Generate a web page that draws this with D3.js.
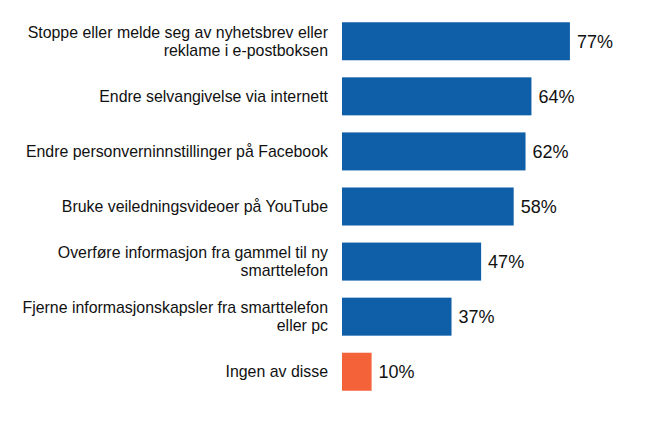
<!DOCTYPE html>
<html><head><meta charset="utf-8">
<script src="https://cdn.jsdelivr.net/npm/d3@7"></script>
<style>body{margin:0;background:#fff}</style></head>
<body><svg id="c" width="664" height="422"></svg>
<script>
const categories = [
  ["Stoppe eller melde seg av nyhetsbrev eller","reklame i e-postboksen"],
  ["Endre selvangivelse via internett"],
  ["Endre personverninnstillinger på Facebook"],
  ["Bruke veiledningsvideoer på YouTube"],
  ["Overføre informasjon fra gammel til ny","smarttelefon"],
  ["Fjerne informasjonskapsler fra smarttelefon","eller pc"],
  ["Ingen av disse"]
];
const values = [77,64,62,58,47,37,10];
const colors = ["#0f5ea8","#0f5ea8","#0f5ea8","#0f5ea8","#0f5ea8","#0f5ea8","#f4623a"];

const svg = d3.select("#c");
const x = d3.scaleLinear().domain([0,100]).range([342,638]);
const y = d3.scaleBand().domain(d3.range(values.length)).range([14,399]).paddingInner(0.31).paddingOuter(0.15);

const g = svg.selectAll("g.r").data(values).join("g");
g.append("rect").attr("x",x(0)).attr("y",(d,i)=>y(i)).attr("height",y.bandwidth())
 .attr("width",d=>x(d)-x(0)).attr("fill",(d,i)=>colors[i]);
g.append("text").attr("x",d=>x(d)+7).attr("y",(d,i)=>y(i)+y.bandwidth()/2+6.5)
 .attr("font-family","Liberation Sans, Arial, sans-serif").attr("font-size",18).attr("fill","#111")
 .text(d=>d+"%");
g.each(function(d,i){
  const lines = categories[i];
  const t = d3.select(this).append("text").attr("text-anchor","end")
   .attr("font-family","Liberation Sans, Arial, sans-serif").attr("font-size",15.9).attr("fill","#111");
  const cy = y(i)+y.bandwidth()/2;
  lines.forEach((l,k)=>{
    t.append("tspan").attr("x",328).attr("y",cy+5.5+(k-(lines.length-1)/2)*18.5).text(l);
  });
});
</script></body></html>
